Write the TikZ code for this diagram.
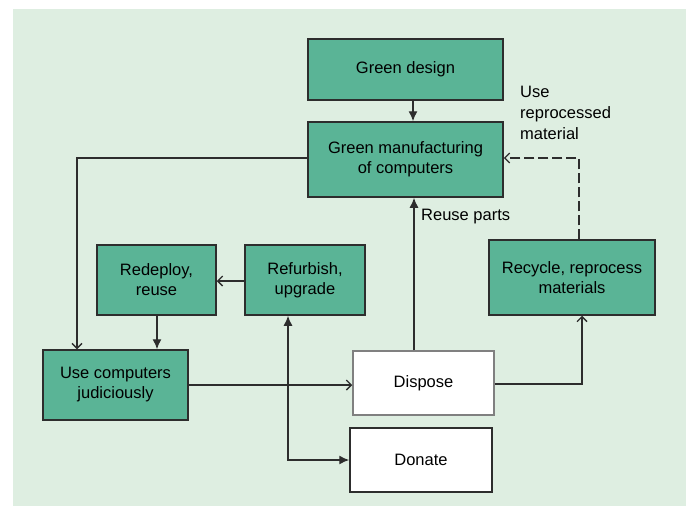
\documentclass[tikz,border=0pt]{standalone}
\usepackage{fontspec}
\setmainfont{Liberation Sans}
\usepackage{tikz}
\usetikzlibrary{arrows.meta}

\definecolor{boxgreen}{RGB}{90,180,150}
\definecolor{bggreen}{RGB}{222,238,225}
\definecolor{linegray}{RGB}{45,45,45}

\tikzset{
  gbox/.style={draw=linegray,line width=1.5pt,fill=boxgreen,align=center,
    inner sep=0pt,font=\fontsize{16.5}{20}\selectfont},
  wbox/.style={gbox,fill=white},
  link/.style={draw=linegray,line width=1.4pt},
  solid tip/.style={-{Latex[length=10pt,width=9pt]}},
  open tip/.style={-{Straight Barb[length=5pt,width=10pt]}},
  lbl/.style={inner sep=0pt,font=\fontsize{16.5}{21}\selectfont}
}

\begin{document}
\begin{tikzpicture}[x=1pt,y=-1pt]
  \useasboundingbox (0,0) rectangle (686,517);
  \fill[bggreen] (13,9) rectangle (686,506);
  % boxes
  \node[gbox,minimum width=195pt,minimum height=61pt] (design) at (405.5,69.5) {Green design};
  \node[gbox,minimum width=195pt,minimum height=75pt] (manuf) at (405.5,159.5) {Green manufacturing\\of computers};
  \node[gbox,minimum width=119pt,minimum height=70pt] (redeploy) at (156.5,280) {Redeploy,\\reuse};
  \node[gbox,minimum width=120pt,minimum height=70pt] (refurb) at (305,280) {Refurbish,\\upgrade};
  \node[gbox,minimum width=166pt,minimum height=75pt] (recycle) at (572,277.5) {Recycle, reprocess\\materials};
  \node[gbox,minimum width=145pt,minimum height=70pt] (use) at (115.5,385) {Use computers\\judiciously};
  \node[wbox,draw=gray,minimum width=141pt,minimum height=64pt] (dispose) at (423.5,383) {Dispose};
  \node[wbox,minimum width=142pt,minimum height=64pt] (donate) at (421,460) {Donate};
  % labels
  \node[lbl,align=left,anchor=north west] (reproc) at (520,86) {Use\\reprocessed\\material};
  \node[lbl,anchor=west] (reuse) at (421,217) {Reuse parts};
  \coordinate (manufleft) at (manuf.west |- 0,158);
  \coordinate (manufright) at (manuf.east |- 0,158);
  \coordinate (usetop) at (use.north -| 77,0);
  % connectors
  \draw[link,solid tip] (design.south -| 413,0) -- (manuf.north -| 413,0);
  \draw[link,open tip] (manufleft) -| (usetop);
  \draw[link,solid tip] (redeploy.south -| 157,0) -- (use.north -| 157,0);
  \draw[link,open tip] (refurb.west |- 0,281) -- (redeploy.east |- 0,281);
  \draw[link,open tip] (use.east |- 0,385) -- (dispose.west |- 0,385);
  \draw[link,solid tip] (dispose.north -| 414,0) -- (manuf.south -| 414,0);
  \draw[link,open tip] (dispose.east |- 0,384) -| (recycle.south -| 582,0);
  \draw[link,open tip,dash pattern=on 10pt off 4pt] (recycle.north -| 579,0) |- (manufright);
  \draw[link,{Latex[length=10pt,width=9pt]}-{Latex[length=10pt,width=9pt]}] (refurb.south -| 288,0) |- (donate.west |- 0,460);
\end{tikzpicture}
\end{document}
